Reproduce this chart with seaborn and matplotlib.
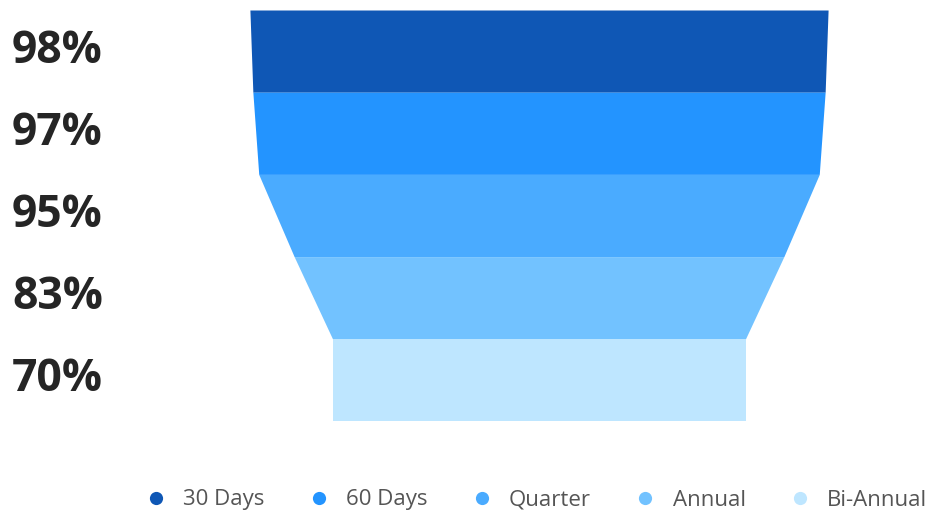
import matplotlib
matplotlib.use("Agg")
import matplotlib.pyplot as plt
import seaborn as sns
from matplotlib.lines import Line2D
from matplotlib.transforms import blended_transform_factory

# ==========================
# Data
# ==========================
categories = ["30 Days", "60 Days", "Quarter", "Annual", "Bi-Annual"]
values = [98, 97, 95, 83, 70]
labels = ["98%", "97%", "95%", "83%", "70%"]

colors = ["#0F57B5", "#2394FF", "#4AABFF", "#72C2FF", "#BEE6FF"]

# ==========================
# Style
# ==========================
sns.set_theme(style="white")
plt.rcParams["font.family"] = ["Open Sans", "DejaVu Sans"]

fig = plt.figure(figsize=(9.32, 5.16), dpi=100)
ax = fig.add_axes([244 / 932, 95 / 516, 590 / 932, 411 / 516])

# ==========================
# Funnel segments
# ==========================
n = len(values)
for i in range(n):
    top = values[i]
    bottom = values[i + 1] if i + 1 < n else values[i]
    ax.fill_betweenx(
        [i, i + 1],
        [-top / 2, -bottom / 2],
        [top / 2, bottom / 2],
        color=colors[i],
        linewidth=0,
    )

ax.set_xlim(-50, 50)
ax.set_ylim(n, 0)
ax.axis("off")

# value labels on the left
trans = blended_transform_factory(fig.transFigure, ax.transData)
for i, lab in enumerate(labels):
    ax.text(
        12 / 932, i + 0.5, lab,
        transform=trans,
        ha="left", va="center",
        fontsize=32, fontweight="bold", color="#252525",
    )

# ==========================
# Legend
# ==========================
handles = [
    Line2D([0], [0], marker="o", linestyle="", markersize=9.5,
           markerfacecolor=c, markeredgewidth=0)
    for c in colors
]
leg = fig.legend(
    handles, categories,
    loc="center", bbox_to_anchor=(536 / 932, 16 / 516),
    ncol=5, frameon=False, fontsize=16,
    handletextpad=0.72, columnspacing=1.95, handlelength=1.0,
    borderaxespad=0, borderpad=0,
)
for t in leg.get_texts():
    t.set_color("#555555")

plt.savefig("out.png", dpi=100)
